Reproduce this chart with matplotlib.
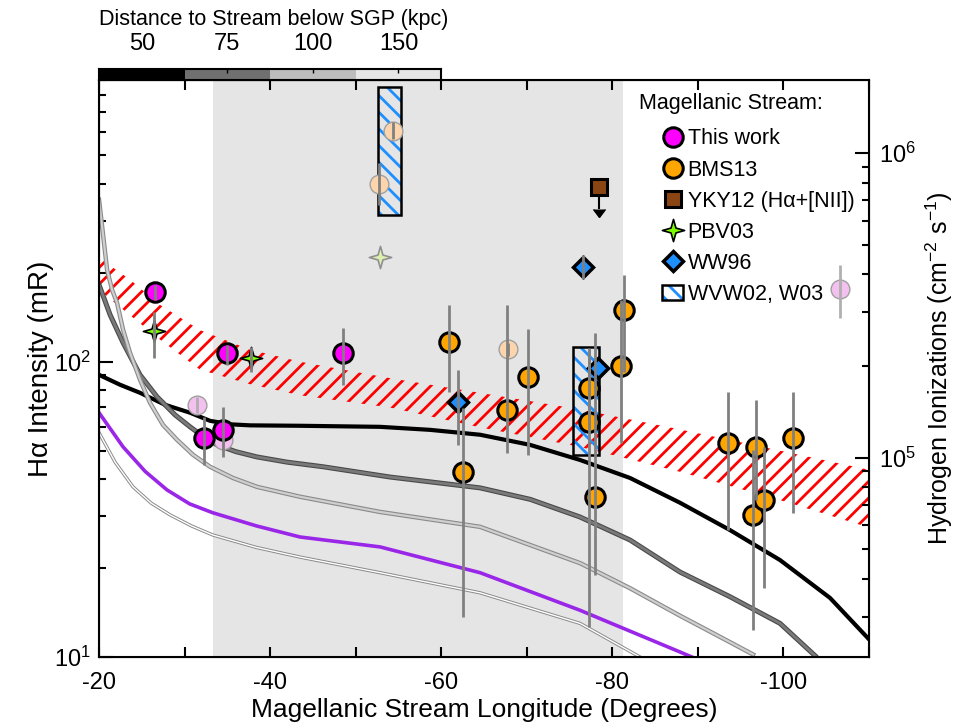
import matplotlib
matplotlib.use("Agg")
import matplotlib.pyplot as plt
from matplotlib.path import Path
from matplotlib.patches import Rectangle, Patch
from matplotlib.lines import Line2D
from matplotlib.ticker import MultipleLocator, NullFormatter

plt.rcParams["font.family"] = ["Liberation Sans", "DejaVu Sans"]
plt.rcParams["mathtext.default"] = "regular"
plt.rcParams["axes.unicode_minus"] = False
plt.rcParams["hatch.linewidth"] = 2.0

# distance bar (longitude bins -> kpc)
dist_edges = [-20, -30, -40, -50, -60]
dist_labels = ["50", "75", "100", "150"]

# shaded longitude range of the stream
stream_range = (-33.3, -81.2)

# predicted emission band (red hatched)
band_lon = [-20, -23.6, -27.1, -31.8, -37.6, -43.5, -54.0, -64.5, -76.2, -87.9, -99.6, -110.1]
band_hi = [225, 190, 156, 128, 110, 100, 88, 78.5, 69, 59, 50, 43]
band_lo = [175, 144, 119, 94, 84, 77, 70, 60, 51.5, 42.4, 34, 27.4]

# model curves
black_lon = [-20, -22.45, -24.79, -27.71, -30.64, -32.97, -35.31, -37.65, -43.49, -52.85,
             -58.69, -64.54, -70.38, -76.22, -82.07, -87.91, -93.76, -99.6, -105.45, -110.1]
black_val = [90.3, 83.6, 78.5, 71.5, 67.2, 63.1, 61.4, 60.9, 60.7, 60.2,
             58.8, 56.6, 52.3, 46.5, 40.4, 33.3, 26.9, 21.3, 15.85, 11.4]

dgray_lon = [-20, -21.29, -22.81, -24.79, -26.78, -28.88, -30.64, -32.2, -33.79, -36.0,
             -38.47, -42.0, -46.18, -54.01, -64.54, -70.4, -76.22, -82.07, -87.91,
             -93.76, -99.6, -103.7]
dgray_val = [182.4, 144.3, 116, 90.3, 76.1, 66.1, 60.2, 55.8, 52.3, 49.6,
             47.6, 45.7, 44.1, 40.7, 37.4, 34.2, 29.8, 24.9, 19.4,
             16.0, 13.0, 10.1]

lgray_lon = [-20, -20.47, -20.94, -21.52, -22.1, -22.81, -23.62, -24.79, -25.96, -27.48,
             -29.12, -30.99, -32.97, -35.66, -38.47, -43.49, -52.85, -64.54, -76.22,
             -82.07, -87.91, -92.59, -96.45]
lgray_val = [354, 269.5, 205, 175.4, 158.5, 128.4, 107.3, 86.9, 72.6, 61.1,
             54.4, 48.4, 44.1, 40.4, 37.7, 34.9, 31.0, 27.6, 20.8,
             17.1, 13.8, 11.7, 10.2]

purple_lon = [-20, -22.81, -25.4, -27.95, -30.6, -33.3, -38.4, -43.49, -52.85, -64.54,
              -76.22, -87.91, -89.3]
purple_val = [67.2, 51.5, 42.5, 36.8, 33.0, 30.8, 27.8, 25.5, 23.6, 19.3,
              14.4, 10.4, 10.0]

thin_lon = [-20, -21.9, -23.97, -26.1, -28.3, -30.8, -33.3, -38.4, -43.49, -52.85,
            -64.54, -76.22, -83.24]
thin_val = [57.5, 45.6, 37.7, 33.2, 30.3, 27.8, 25.9, 23.5, 21.8, 19.3,
            16.5, 13.0, 10.0]

# This work
tw_lon = [-26.6, -34.9, -48.5, -32.3, -34.5]
tw_val = [172.7, 107.3, 107.3, 55.3, 58.8]
tw_lo = [162, 97.8, 83.6, 44.8, 47.6]
tw_hi = [182, 114, 130.3, 65.1, 70.4]

# This work, off-stream sightlines (faded)
tw_off_lon = [-31.5, -34.5, -106.6]
tw_off_val = [71.5, 54.4, 176.8]
tw_off_lo = [67, 52, 141]
tw_off_hi = [76, 57, 213]

# BMS13
bms_lon = [-60.91, -62.55, -67.69, -70.15, -77.28, -77.28, -77.98, -81.02, -81.37,
           -93.53, -96.8, -96.45, -97.74, -101.1]
bms_val = [116.9, 42.4, 68.8, 89.0, 81.6, 62.6, 34.9, 96.9, 150,
           53.1, 51.5, 30.3, 34.1, 55.3]
bms_lo = [79.1, 13.7, 49.2, 48.4, 58.8, 12.6, 19.0, 53.1, 92.5,
          26.9, 34.1, 12.3, 17.1, 30.8]
bms_hi = [156.1, 69.8, 156.1, 129.4, 109.8, 111.6, 125.4, 162, 197,
          79.1, 74.3, 50.3, 51.5, 79.1]

# BMS13 off-stream (faded)
bms_off_lon = [-67.81, -52.73, -54.37]
bms_off_val = [110.7, 401, 607]
bms_off_lo = [105, 340, 570]
bms_off_hi = [116, 470, 650]

# YKY12 upper limit
yky_lon = [-78.45]
yky_val = [392]
yky_drop = [62]

# PBV03
pbv_lon = [-26.43, -37.77]
pbv_val = [127.4, 103.2]
pbv_lo = [103.2, 92.5]
pbv_hi = [147.7, 112]
pbv_off_lon = [-52.85]
pbv_off_val = [227]

# WW96
ww_lon = [-61.96, -78.33, -76.57]
ww_val = [73.2, 95.4, 210]
ww_lo = [52.3, 95.4, 190]
ww_hi = [93.9, 95.4, 230]

# WVW02, W03 ranges
wvw_lon0 = [-52.61, -75.41]
wvw_lon1 = [-55.3, -78.45]
wvw_lo = [315, 48.4]
wvw_hi = [855, 112.4]

star4 = Path([(0, 1), (0.22, 0.22), (1, 0), (0.22, -0.22), (0, -1),
              (-0.22, -0.22), (-1, 0), (-0.22, 0.22), (0, 1)], closed=True)

ERR = "#808080"
MAGENTA = "#ff00ff"
ORANGE = "#ffa500"
BLUE = "#1e8fff"

fig = plt.figure(figsize=(9.69, 7.28), dpi=100)
ax = fig.add_axes([0.1022, 0.0975, 0.7946, 0.7926])
ax.set_xlim(-20, -110)
ax.set_yscale("log")
ax.set_ylim(10, 900)

ax.axvspan(*stream_range, color="#e5e5e5", lw=0, zorder=0)
ax.fill_between(band_lon, band_lo, band_hi, facecolor="none", edgecolor="red",
                hatch="//", lw=0, zorder=1)

ax.plot(black_lon, black_val, color="black", lw=3, zorder=2)
ax.plot(dgray_lon, dgray_val, color="#4a4a4a", lw=3.6, zorder=2)
ax.plot(dgray_lon, dgray_val, color="#7a7a7a", lw=2.0, zorder=2)
ax.plot(lgray_lon, lgray_val, color="#8a8a8a", lw=3.2, zorder=2)
ax.plot(lgray_lon, lgray_val, color="#cfcfcf", lw=1.6, zorder=2)
ax.plot(purple_lon, purple_val, color="#9a27e8", lw=2.6, zorder=2)
ax.plot(thin_lon, thin_val, color="#8a8a8a", lw=2.4, zorder=2)
ax.plot(thin_lon, thin_val, color="white", lw=1.0, zorder=2)

for l0, l1, lo, hi in zip(wvw_lon0, wvw_lon1, wvw_lo, wvw_hi):
    ax.add_patch(Rectangle((l0, lo), l1 - l0, hi - lo, facecolor="none",
                           edgecolor=BLUE, hatch="\\\\", lw=0, zorder=3))
    ax.add_patch(Rectangle((l0, lo), l1 - l0, hi - lo, facecolor="none",
                           edgecolor="black", lw=1.8, zorder=3))

# faded points
ax.plot(bms_off_lon, bms_off_val, ls="none", marker="o", ms=13.5, mfc="#fdd5ad",
        mec="#a0a0a0", mew=1, zorder=4)
ax.vlines(bms_off_lon, bms_off_lo, bms_off_hi, color=ERR, lw=2, zorder=4)
ax.plot(tw_off_lon, tw_off_val, ls="none", marker="o", ms=13.5, mfc="#f3c0f0",
        mec="#a0a0a0", mew=1, zorder=4)
ax.vlines(tw_off_lon, tw_off_lo, tw_off_hi, color="#b0b0b0", lw=2, zorder=4)
ax.plot(pbv_off_lon, pbv_off_val, ls="none", marker=star4, ms=16, mfc="#dcefb0",
        mec="#909090", mew=1.2, zorder=4)

# data points with error bars on top
ax.plot(tw_lon, tw_val, ls="none", marker="o", ms=14, mfc=MAGENTA, mec="black",
        mew=2.2, zorder=5)
ax.vlines(tw_lon, tw_lo, tw_hi, color=ERR, lw=2, zorder=6)

ax.plot(bms_lon, bms_val, ls="none", marker="o", ms=14, mfc=ORANGE, mec="black",
        mew=2.2, zorder=5)
ax.vlines(bms_lon, bms_lo, bms_hi, color=ERR, lw=2, zorder=6)

ax.plot(pbv_lon, pbv_val, ls="none", marker=star4, ms=16, mfc="#7cfc00", mec="black",
        mew=1.2, zorder=5)
ax.vlines(pbv_lon, pbv_lo, pbv_hi, color=ERR, lw=2, zorder=6)

ax.plot(ww_lon, ww_val, ls="none", marker="D", ms=10, mfc=BLUE, mec="black",
        mew=2.5, zorder=5)
ax.vlines(ww_lon, ww_lo, ww_hi, color=ERR, lw=2, zorder=6)

ax.errorbar(yky_lon, yky_val, yerr=[yky_drop, [0]], uplims=True, fmt="none",
            ecolor="black", color="black", elinewidth=1.5, capsize=4, zorder=5)
ax.plot(yky_lon, yky_val, ls="none", marker="s", ms=12, mfc="#8b4513", mec="black",
        mew=2.2, zorder=6)

# axes styling
for sp in ax.spines.values():
    sp.set_linewidth(1.5)
ax.xaxis.set_major_locator(MultipleLocator(20))
ax.xaxis.set_minor_locator(MultipleLocator(10))
ax.tick_params(axis="x", which="both", direction="in", top=True, length=7, width=1.5,
               labelsize=17, pad=11)
ax.tick_params(axis="y", which="major", direction="in", length=10, width=1.5,
               labelsize=17, pad=6)
ax.tick_params(axis="y", which="minor", direction="in", length=5, width=1.5)
ax.set_xlabel("Magellanic Stream Longitude (Degrees)", fontsize=19, labelpad=3)
ax.set_ylabel("H\u03b1 Intensity (mR)", fontsize=20, labelpad=0)

ax2 = ax.twinx()
ax2.set_yscale("log")
ax2.set_ylim(2.21e4, 1.74e6)
ax2.yaxis.set_minor_formatter(NullFormatter())
ax2.tick_params(axis="y", which="major", direction="in", length=10, width=1.5,
                labelsize=17, pad=7)
ax2.tick_params(axis="y", which="minor", direction="in", length=5, width=1.5)
ax2.set_ylabel("Hydrogen Ionizations (cm$^{-2}$ s$^{-1}$)", fontsize=18, labelpad=6)

# distance bar on top
cb = ax.inset_axes([0, 1.0, 40 / 90, 11 / 577])
block_colors = ["#000000", "#707070", "#bcbcbc", "#e6e6e6"]
for i in range(len(dist_labels)):
    cb.axvspan(dist_edges[i], dist_edges[i + 1], color=block_colors[i], lw=0)
cb.set_xlim(dist_edges[0], dist_edges[-1])
cb.set_ylim(0, 1)
cb.set_yticks([])
centers = [(a + b) / 2 for a, b in zip(dist_edges[:-1], dist_edges[1:])]
cb.set_xticks(centers)
cb.set_xticklabels(dist_labels)
cb.xaxis.tick_top()
cb.tick_params(axis="x", direction="in", length=3, width=1, labelsize=17, pad=10)
for sp in cb.spines.values():
    sp.set_linewidth(1.5)
cb.set_title("Distance to Stream below SGP (kpc)", loc="left", fontsize=15.5, pad=6)

# legend
ax.text(0.701, 0.960, "Magellanic Stream:", transform=ax.transAxes, fontsize=15.5,
        ha="left", va="center", zorder=10)
handles = [
    Line2D([], [], ls="none", marker="o", ms=14, mfc=MAGENTA, mec="black", mew=2.2),
    Line2D([], [], ls="none", marker="o", ms=14, mfc=ORANGE, mec="black", mew=2.2),
    Line2D([], [], ls="none", marker="s", ms=12, mfc="#8b4513", mec="black", mew=2.2),
    Line2D([], [], ls="none", marker=star4, ms=16, mfc="#7cfc00", mec="black", mew=1.2),
    Line2D([], [], ls="none", marker="D", ms=10, mfc=BLUE, mec="black", mew=2.5),
    (Patch(facecolor="white", edgecolor=BLUE, hatch="\\\\", lw=0),
     Patch(facecolor="none", edgecolor="black", lw=1.8)),
]
labels = ["This work", "BMS13", "YKY12 (H\u03b1+[NII])", "PBV03", "WW96", "WVW02, W03"]
ax.legend(handles, labels, loc="upper left", bbox_to_anchor=(0.731, 0.916),
          frameon=False, fontsize=15.5, handlelength=1.0, handletextpad=0.2,
          labelspacing=0.47, borderpad=0, borderaxespad=0)

fig.savefig("out.png", dpi=100)
